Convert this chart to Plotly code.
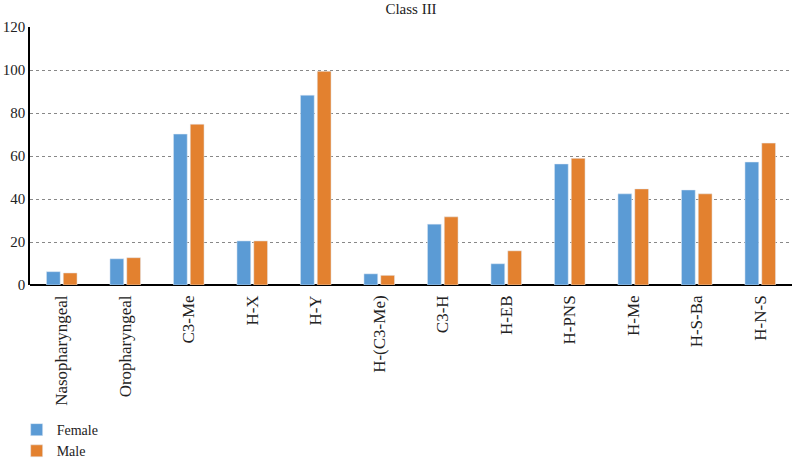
import plotly.graph_objects as go

categories = ["Nasopharyngeal", "Oropharyngeal", "C3-Me", "H-X", "H-Y", "H-(C3-Me)",
              "C3-H", "H-EB", "H-PNS", "H-Me", "H-S-Ba", "H-N-S"]
female = [6.2, 12.2, 70.2, 20.5, 88.3, 5.2, 28.3, 9.9, 56.3, 42.4, 44.2, 57.2]
male = [5.6, 12.7, 74.8, 20.5, 99.4, 4.5, 31.7, 15.9, 58.9, 44.7, 42.4, 66.0]
y_ticks = [0, 20, 40, 60, 80, 100, 120]

FONT = "Liberation Serif, Times New Roman, serif"

fig = go.Figure()
fig.add_trace(go.Bar(name="Female", x=categories, y=female, marker_color="#5B9BD5"))
fig.add_trace(go.Bar(name="Male", x=categories, y=male, marker_color="#E3812F"))

fig.update_layout(
    width=794, height=458,
    margin=dict(l=30, r=2, t=27, b=173, autoexpand=False),
    paper_bgcolor="white", plot_bgcolor="white",
    title=dict(text="Class III", xref="paper", x=0.5, xanchor="center",
               yref="container", y=0.992, yanchor="top",
               font=dict(family=FONT, size=15, color="#222")),
    font=dict(family=FONT, size=16, color="#222"),
    barmode="group", bargap=0.47, bargroupgap=0.18,
    showlegend=True,
    legend=dict(orientation="v", xref="container", yref="container",
                x=0.021, xanchor="left", y=0.096, yanchor="top",
                font=dict(family=FONT, size=14, color="#222"),
                tracegroupgap=0, itemwidth=30, bgcolor="rgba(0,0,0,0)"),
)
fig.update_xaxes(tickangle=-90, showline=False, ticks="", showgrid=False, automargin=False,
                 ticklabelstandoff=6,
                 tickfont=dict(family=FONT, size=17, color="#222"))
fig.update_yaxes(range=[0, 120], tickvals=y_ticks, showline=True, linecolor="black", linewidth=1.5,
                 showgrid=True, gridcolor="#888", griddash="dot", gridwidth=1.2,
                 zeroline=True, zerolinecolor="black", zerolinewidth=1.5, automargin=False,
                 ticks="", ticklabelstandoff=0,
                 tickfont=dict(family=FONT, size=15, color="#222"))

fig.write_html("out.html")
